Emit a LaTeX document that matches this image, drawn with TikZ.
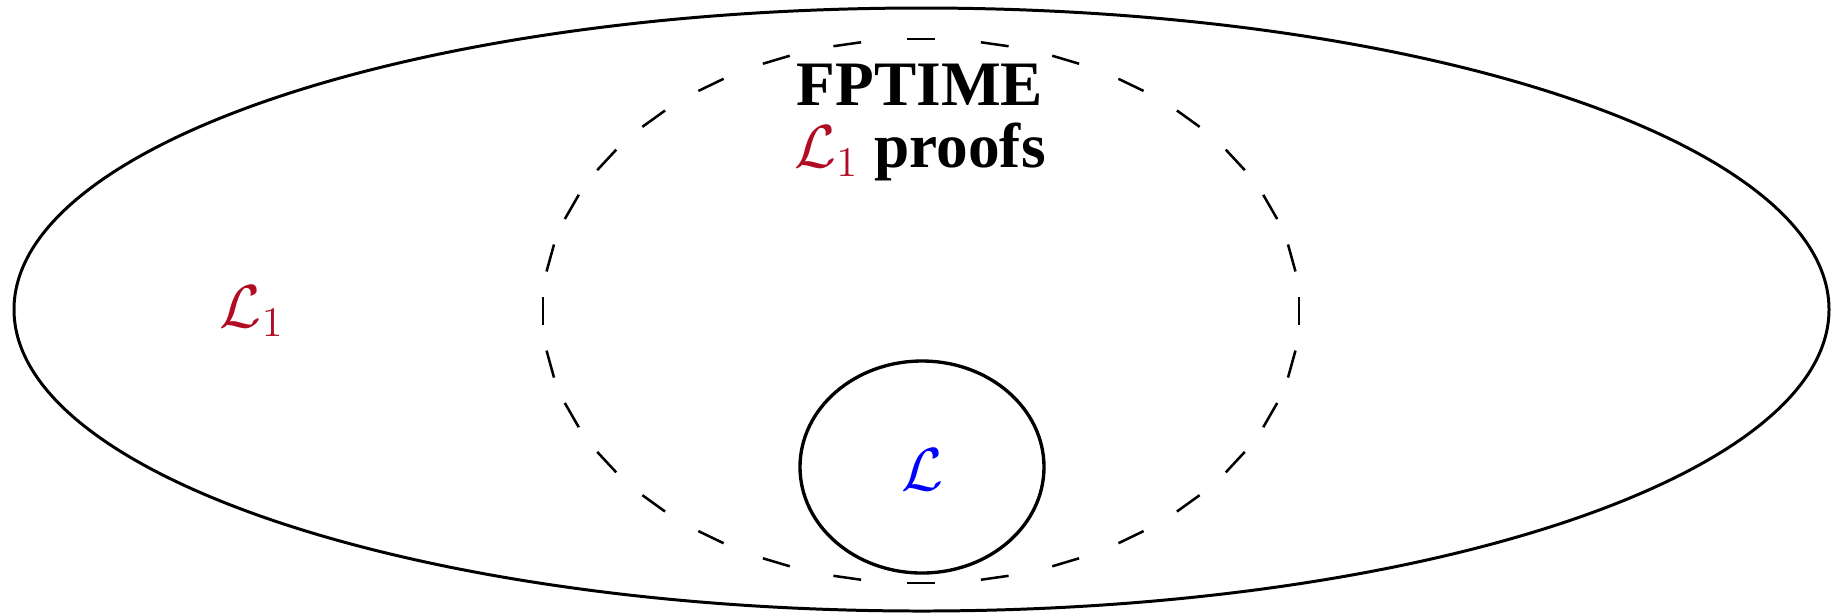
\documentclass[tikz,border=0pt]{standalone}
\usepackage{fontspec}
\setmainfont{Liberation Serif}
\definecolor{lred}{RGB}{176,12,36}
\definecolor{lblue}{RGB}{0,0,255}
\begin{document}
\begin{tikzpicture}[x=0.01cm,y=-0.01cm,
  solidline/.style={draw=black,line width=0.85pt},
  circline/.style={draw=black,line width=0.95pt},
  dashline/.style={draw=black,line width=0.72pt},
  lbl/.style={inner sep=0pt,anchor=base,font=\fontsize{18}{17.6}\selectfont}]
\useasboundingbox (0,0) rectangle (1842,614);
% outer ellipse
\draw[solidline] (921.5,309.5) ellipse [x radius=907.5, y radius=301.5];
% dashed ellipse drawn as 32 equal dashes
\foreach \k in {0,...,31} {
  \pgfmathsetmacro\t{\k*11.25}
  \pgfmathsetmacro\tx{-1.3897*sin(\t)}
  \pgfmathsetmacro\ty{cos(\t)}
  \pgfmathsetmacro\n{sqrt(\tx*\tx+\ty*\ty)}
  \pgfmathsetmacro\dx{14*\tx/\n}
  \pgfmathsetmacro\dy{14*\ty/\n}
  \pgfmathsetmacro\px{921+378*cos(\t)}
  \pgfmathsetmacro\py{311+272*sin(\t)}
  \coordinate (da\k) at (\px-\dx,\py-\dy);
  \coordinate (db\k) at (\px+\dx,\py+\dy);
  \draw[dashline] (da\k) -- (db\k);
}
% inner circle
\draw[circline] (922,467) ellipse [x radius=122, y radius=106];
% labels
\node[lbl,anchor=north,align=center] (title) at (920,63)
  {\textbf{FPTIME}\\{\color{lred}$\mathcal{L}_1$} \textbf{proofs}};
\node[lbl] (lone) at (252,327) {\color{lred}$\mathcal{L}_1$};
\node[lbl] (lang) at (922,490) {\color{lblue}$\mathcal{L}$};
\end{tikzpicture}
\end{document}
